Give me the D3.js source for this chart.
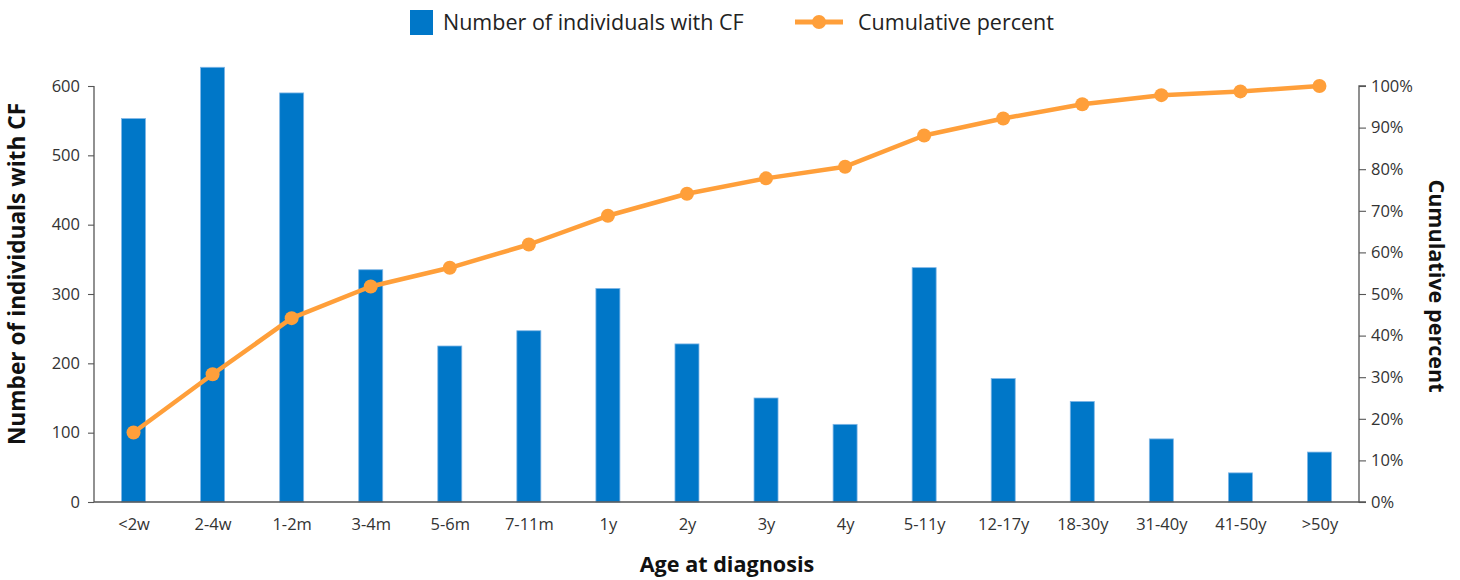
<!DOCTYPE html>
<html>
<head>
<meta charset="utf-8">
<script src="https://cdn.jsdelivr.net/npm/d3@7"></script>
<style>
  body { margin: 0; background: #fff; }
  svg { font-family: "Open Sans", "Noto Sans", sans-serif; }
</style>
</head>
<body>
<svg id="chart" width="1460" height="580"></svg>
<script>
const categories = ["<2w","2-4w","1-2m","3-4m","5-6m","7-11m","1y","2y","3y","4y","5-11y","12-17y","18-30y","31-40y","41-50y",">50y"];
const counts = [553, 627, 590, 335, 225, 247, 308, 228, 150, 112, 338, 178, 145, 91, 42, 72];
const cumulativePercent = [16.7, 30.7, 44.2, 51.8, 56.3, 61.9, 68.8, 74.1, 77.8, 80.6, 88.1, 92.2, 95.6, 97.8, 98.7, 100];
const leftTicks = [0, 100, 200, 300, 400, 500, 600];
const rightTicks = [0, 10, 20, 30, 40, 50, 60, 70, 80, 90, 100];

const barColor = "#0077c8";
const lineColor = "#ff9f3a";
const axisColor = "#555";
const textColor = "#333";

const svg = d3.select("#chart");
const m = { left: 94, right: 1359, top: 86, bottom: 502 };

const xc = d3.scalePoint().domain(categories).range([m.left, m.right]).padding(0.5);
const yL = d3.scaleLinear().domain([0, 600]).range([m.bottom, m.top]);
const yR = d3.scaleLinear().domain([0, 100]).range([m.bottom, m.top]);

// Bars
svg.append("g").selectAll("rect").data(categories).join("rect")
  .attr("x", (d) => xc(d) - 12)
  .attr("width", 24)
  .attr("y", (d, i) => yL(counts[i]))
  .attr("height", (d, i) => yL(0) - yL(counts[i]))
  .attr("fill", barColor)
  .attr("stroke", "#7fb6e6")
  .attr("stroke-width", 0.8);

// Axes
const gL = svg.append("g").attr("transform", `translate(${m.left},0)`)
  .call(d3.axisLeft(yL).tickValues(leftTicks).tickSize(6).tickPadding(8).tickFormat(d3.format("d")));
const gR = svg.append("g").attr("transform", `translate(${m.right},0)`)
  .call(d3.axisRight(yR).tickValues(rightTicks).tickSize(7).tickPadding(5).tickFormat(d => d + "%"));
const gB = svg.append("g").attr("transform", `translate(0,${m.bottom})`)
  .call(d3.axisBottom(xc).tickSize(0).tickPadding(16));

[gL, gR, gB].forEach(g => {
  g.selectAll("path.domain").attr("stroke", axisColor).attr("stroke-width", 1.3);
  g.selectAll(".tick line").attr("stroke", axisColor).attr("stroke-width", 1.1);
  g.selectAll(".tick text").attr("fill", textColor).style("font-size", "16.5px").style("font-family", '"Open Sans", sans-serif');
});
gL.select("path.domain").attr("d", `M-0,${m.top}H0V${m.bottom}H-0`);
gR.select("path.domain").attr("d", `M7,${m.top}H0V${m.bottom}H7`);
gB.select("path.domain").attr("d", `M${m.left},0H${m.right}`);

// Line
const line = d3.line().x((d, i) => xc(categories[i])).y(d => yR(d));
svg.append("path").datum(cumulativePercent)
  .attr("d", line)
  .attr("fill", "none")
  .attr("stroke", lineColor)
  .attr("stroke-width", 4.5)
  .attr("stroke-linejoin", "round");
svg.append("g").selectAll("circle").data(cumulativePercent).join("circle")
  .attr("cx", (d, i) => xc(categories[i]))
  .attr("cy", d => yR(d))
  .attr("r", 7)
  .attr("fill", lineColor);

// Axis titles
svg.append("text")
  .attr("transform", `translate(25,274) rotate(-90)`)
  .attr("text-anchor", "middle")
  .style("font-size", "22.7px").style("font-weight", "bold").attr("fill", "#111")
  .text("Number of individuals with CF");
svg.append("text")
  .attr("transform", `translate(1429,286) rotate(90)`)
  .attr("text-anchor", "middle")
  .style("font-size", "21.6px").style("font-weight", "bold").attr("fill", "#111")
  .text("Cumulative percent");
svg.append("text")
  .attr("x", 727).attr("y", 572)
  .attr("text-anchor", "middle")
  .style("font-size", "21.6px").style("font-weight", "bold").attr("fill", "#111")
  .text("Age at diagnosis");

// Legend
const lg = svg.append("g");
lg.append("rect").attr("x", 410).attr("y", 10).attr("width", 23).attr("height", 25).attr("fill", barColor);
lg.append("text").attr("x", 443).attr("y", 30).style("font-size", "21.5px").attr("fill", "#222")
  .text("Number of individuals with CF");
lg.append("line").attr("x1", 795).attr("x2", 843).attr("y1", 22).attr("y2", 22)
  .attr("stroke", lineColor).attr("stroke-width", 5);
lg.append("circle").attr("cx", 819).attr("cy", 22).attr("r", 7).attr("fill", lineColor);
lg.append("text").attr("x", 858).attr("y", 30).style("font-size", "21.5px").attr("fill", "#222")
  .text("Cumulative percent");
</script>
</body>
</html>
